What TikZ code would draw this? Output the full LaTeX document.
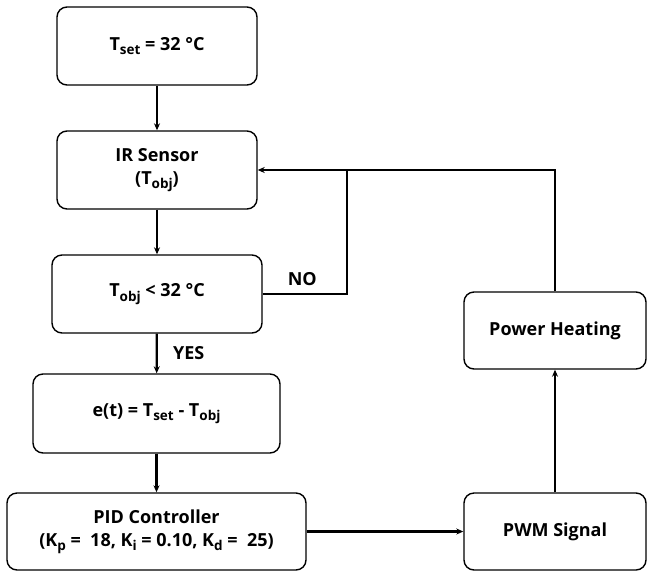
\documentclass[tikz,border=0pt]{standalone}
\usepackage{fontspec}
\setmainfont{Open Sans}
\usetikzlibrary{arrows.meta,positioning}
\newcommand{\lowtxt}[1]{\raisebox{-0.45ex}{\fontsize{13.5}{14}\selectfont #1}}

\begin{document}
\begin{tikzpicture}[x=1pt,y=-1pt,
  block/.style={draw,line width=1.4pt,rounded corners=10pt,align=center,
    inner sep=0pt,font=\bfseries\fontsize{18}{23}\selectfont},
  flow/.style={line width=2.2pt,-{Stealth[length=7pt,width=6pt]}},
  plain/.style={line width=2.2pt},
  tag/.style={font=\bfseries\fontsize{18}{23}\selectfont}]
  \useasboundingbox (0,0) rectangle (647,571);

  \node[block,minimum width=200pt,minimum height=78pt] (set) at (157,46)
    {T\lowtxt{set} = 32 °C};
  \node[block,minimum width=200pt,minimum height=78pt] (ir) at (157,170)
    {IR Sensor\\(T\lowtxt{obj})};
  \node[block,minimum width=210pt,minimum height=78pt] (cmp) at (157,294)
    {T\lowtxt{obj} < 32 °C};
  \node[block,minimum width=247pt,minimum height=79pt] (err) at (156.5,413.5)
    {e(t) = T\lowtxt{set} - T\lowtxt{obj}};
  \node[block,minimum width=299pt,minimum height=77pt] (pid) at (156.5,531.5)
    {PID Controller\\(K\lowtxt{p} = \ 18, K\lowtxt{i} = 0.10, K\lowtxt{d} = \ 25)};
  \node[block,minimum width=182pt,minimum height=77pt] (pwm) at (555,531.5)
    {PWM Signal};
  \node[block,minimum width=182pt,minimum height=77pt] (heat) at (555,330.5)
    {Power Heating};
  \coordinate (join) at (347,170);

  \draw[flow] (set) -- (ir);
  \draw[flow] (ir) -- (cmp);
  \draw[flow] (cmp) -- node[tag,right=12pt] {YES} (err);
  \draw[flow] (err) -- (pid);
  \draw[flow] (pid) -- (pwm);
  \draw[flow] (pwm) -- (heat);
  \draw[flow] (heat.north) |- (ir.east);
  \draw[plain] (cmp.east) -- node[tag,above=4pt,pos=0.47] {NO} (cmp.east -| join) -- (join);
\end{tikzpicture}
\end{document}
